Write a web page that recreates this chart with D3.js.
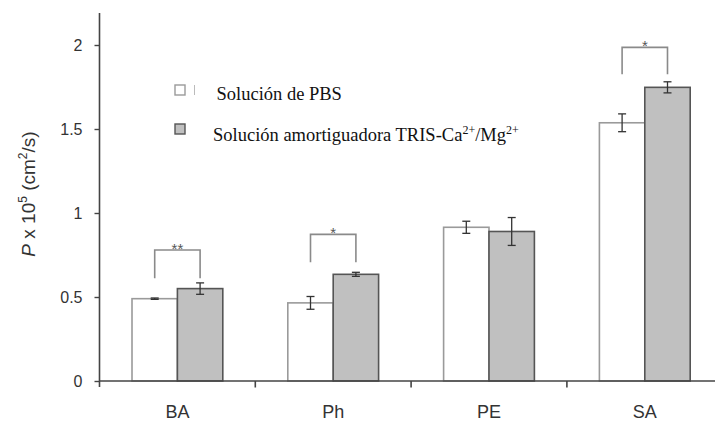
<!DOCTYPE html>
<html>
<head>
<meta charset="utf-8">
<script src="https://cdn.jsdelivr.net/npm/d3@7/dist/d3.min.js"></script>
<style>
  html, body { margin: 0; padding: 0; background: #fff; }
  svg { display: block; }
</style>
</head>
<body>
<svg id="chart" width="715" height="421"></svg>
<script>
// Permeability by tissue, two buffer solutions
const categories = ["BA", "Ph", "PE", "SA"];
const seriesNames = ["Solución de PBS", "Solución amortiguadora TRIS-Ca/Mg"];
const pbsValues = [0.49, 0.465, 0.915, 1.537];
const pbsErrors = [0.004, 0.038, 0.036, 0.053];
const trisValues = [0.55, 0.635, 0.89, 1.748];
const trisErrors = [0.034, 0.012, 0.083, 0.033];
// significance brackets: top level, leg end level, star text
const bracketTop = [0.78, 0.873, null, 1.986];
const bracketLegEnd = [0.611, 0.707, null, 1.826];
const bracketStars = ["**", "*", "", "*"];
const yTicks = [0, 0.5, 1, 1.5, 2];

const svg = d3.select("#chart");
const axisColor = "#444";
const textColor = "#333";

const y = d3.scaleLinear().domain([0, 2.2]).range([381, 11.4]);
const x0 = d3.scaleBand().domain(categories).range([99.5, 722.7]).padding(0);
const x1 = d3.scaleBand().domain([0, 1]).range([0, x0.bandwidth()])
  .paddingInner(0).paddingOuter(0.716);

const fills = ["#ffffff", "#c0c0c0"];
const strokes = ["#9a9a9a", "#555555"];
const values = [pbsValues, trisValues];
const errors = [pbsErrors, trisErrors];

// bars
const barData = [];
categories.forEach((c, i) => {
  [0, 1].forEach(s => barData.push({ c, s, v: values[s][i], e: errors[s][i] }));
});

svg.append("g").selectAll("rect").data(barData).join("rect")
  .attr("x", d => x0(d.c) + x1(d.s))
  .attr("y", d => y(d.v))
  .attr("width", x1.bandwidth())
  .attr("height", d => y(0) - y(d.v))
  .attr("fill", d => fills[d.s])
  .attr("stroke", d => strokes[d.s])
  .attr("stroke-width", 1.6);

// error bars
const eg = svg.append("g").attr("stroke", "#333").attr("stroke-width", 1.3);
barData.forEach(d => {
  const cx = x0(d.c) + x1(d.s) + x1.bandwidth() / 2;
  const cap = 4;
  eg.append("line").attr("x1", cx).attr("x2", cx)
    .attr("y1", y(d.v + d.e)).attr("y2", y(d.v - d.e));
  eg.append("line").attr("x1", cx - cap).attr("x2", cx + cap)
    .attr("y1", y(d.v + d.e)).attr("y2", y(d.v + d.e));
  eg.append("line").attr("x1", cx - cap).attr("x2", cx + cap)
    .attr("y1", y(d.v - d.e)).attr("y2", y(d.v - d.e));
});

// significance brackets
const bg = svg.append("g");
categories.forEach((c, i) => {
  if (bracketTop[i] == null) return;
  const xl = x0(c) + x1(0) + x1.bandwidth() / 2;
  const xr = x0(c) + x1(1) + x1.bandwidth() / 2;
  bg.append("path")
    .attr("d", `M${xl},${y(bracketLegEnd[i])}V${y(bracketTop[i])}H${xr}V${y(bracketLegEnd[i])}`)
    .attr("fill", "none").attr("stroke", "#8a8a8a").attr("stroke-width", 1.6);
  bg.append("text")
    .attr("x", (xl + xr) / 2).attr("y", y(bracketTop[i]) + 4)
    .attr("text-anchor", "middle")
    .attr("font-family", "Liberation Sans, Arial, sans-serif")
    .attr("font-size", 15).attr("fill", "#555")
    .text(bracketStars[i]);
});

// y axis
const yAxis = svg.append("g").attr("transform", "translate(99.5,0)")
  .call(d3.axisLeft(y).tickValues(yTicks).tickSize(5).tickPadding(12)
    .tickFormat(d => String(d)));
yAxis.select(".domain").attr("stroke", axisColor).attr("stroke-width", 1.6)
  .attr("d", `M0,${y(2.19)}V${y(0) + 6}`);
yAxis.selectAll(".tick line").attr("stroke", axisColor).attr("stroke-width", 1.4);
yAxis.selectAll(".tick text").attr("fill", textColor)
  .attr("font-family", "Liberation Sans, Arial, sans-serif").attr("font-size", 16);

// x axis: baseline, ticks at band boundaries, labels at band centres
const xg = svg.append("g");
xg.append("line").attr("x1", 99.5).attr("x2", 715).attr("y1", y(0)).attr("y2", y(0))
  .attr("stroke", axisColor).attr("stroke-width", 1.6);
xg.selectAll("line.bound").data(categories.slice(1)).join("line")
  .attr("class", "bound")
  .attr("x1", d => x0(d)).attr("x2", d => x0(d))
  .attr("y1", y(0)).attr("y2", y(0) + 6.5)
  .attr("stroke", axisColor).attr("stroke-width", 1.6);
xg.selectAll("text").data(categories).join("text")
  .attr("x", d => x0(d) + x0.bandwidth() / 2)
  .attr("y", 418)
  .attr("text-anchor", "middle")
  .attr("font-family", "Liberation Sans, Arial, sans-serif")
  .attr("font-size", 18).attr("fill", textColor)
  .text(d => d);

// y axis title
const yt = svg.append("text")
  .attr("transform", "translate(35,194) rotate(-90)")
  .attr("text-anchor", "middle")
  .attr("font-family", "Liberation Sans, Arial, sans-serif")
  .attr("font-size", 19).attr("fill", textColor);
yt.append("tspan").attr("font-style", "italic").text("P");
yt.append("tspan").text(" x 10");
yt.append("tspan").attr("font-size", 12).attr("dy", -8).text("5");
yt.append("tspan").attr("dy", 8).text(" (cm");
yt.append("tspan").attr("font-size", 12).attr("dy", -8).text("2");
yt.append("tspan").attr("dy", 8).text("/s)");

// legend
const lg = svg.append("g");
const legendRows = [
  { s: 0, y: 90, tx: 216.5, ty: 99.5 },
  { s: 1, y: 129, tx: 213, ty: 141 }
];
legendRows.forEach(r => {
  lg.append("rect").attr("x", 175).attr("y", r.y - 5).attr("width", 10).attr("height", 10)
    .attr("fill", fills[r.s]).attr("stroke", strokes[r.s]).attr("stroke-width", 1.4);
});
lg.append("line").attr("x1", 194.5).attr("x2", 194.5).attr("y1", 85).attr("y2", 95)
  .attr("stroke", "#bbb").attr("stroke-width", 1);

const serif = "Liberation Serif, Times New Roman, serif";
lg.append("text").attr("x", legendRows[0].tx).attr("y", legendRows[0].ty)
  .attr("font-family", serif).attr("font-size", 18.5).attr("fill", "#111")
  .text(seriesNames[0]);
const t2 = lg.append("text").attr("x", legendRows[1].tx).attr("y", legendRows[1].ty)
  .attr("font-family", serif).attr("font-size", 18.5).attr("fill", "#111");
t2.append("tspan").text("Solución amortiguadora TRIS-Ca");
t2.append("tspan").attr("font-size", 12).attr("dy", -7).text("2+");
t2.append("tspan").attr("dy", 7).text("/Mg");
t2.append("tspan").attr("font-size", 12).attr("dy", -7).text("2+");
</script>
</body>
</html>
